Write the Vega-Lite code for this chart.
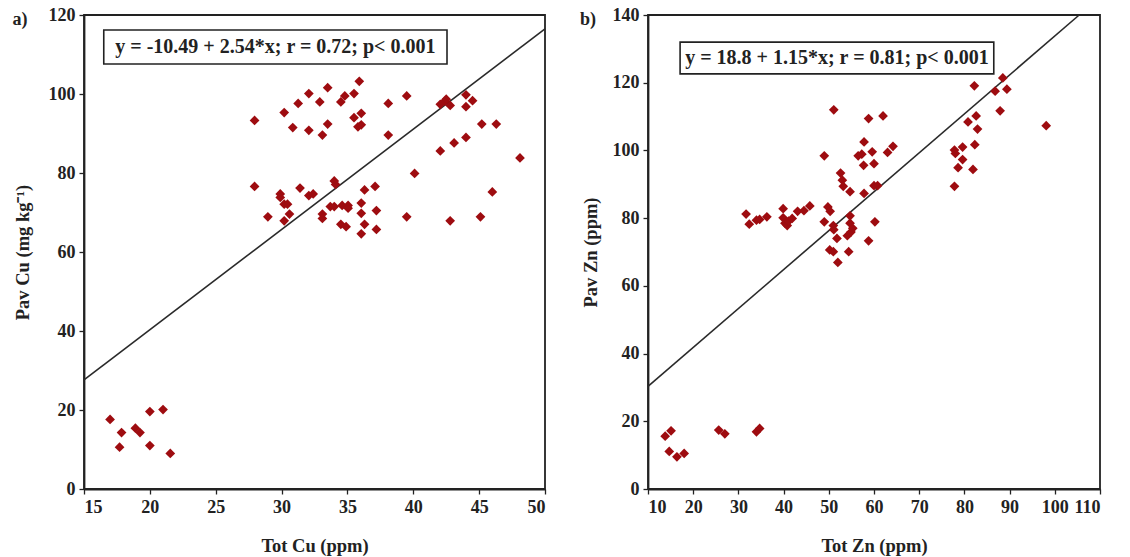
{
  "$schema": "https://vega.github.io/schema/vega-lite/v6.json",
  "padding": {"left": 11, "top": 5, "right": 5, "bottom": 5},
  "background": "white",
  "config": {
    "font": "Liberation Serif",
    "view": {"stroke": "#222", "strokeWidth": 1.8},
    "axis": {
      "grid": false,
      "domainColor": "#222",
      "domainWidth": 1.8,
      "tickColor": "#222",
      "tickSize": 5,
      "tickWidth": 1.3,
      "labelFont": "Liberation Serif",
      "labelFontSize": 18,
      "labelFontWeight": "bold",
      "labelColor": "#222",
      "titleFont": "Liberation Serif",
      "titleFontSize": 18.5,
      "titleFontWeight": "bold",
      "titleColor": "#222",
      "labelPadding": 4
    }
  },
  "datasets": {
    "cu": [
      {"tot": 16.98, "pav": 17.6}, {"tot": 17.85, "pav": 14.3}, {"tot": 17.7, "pav": 10.6},
      {"tot": 18.9, "pav": 15.4}, {"tot": 19.25, "pav": 14.3}, {"tot": 20.0, "pav": 19.6},
      {"tot": 20.0, "pav": 11.0}, {"tot": 21.0, "pav": 20.1}, {"tot": 21.55, "pav": 9.0},
      {"tot": 27.95, "pav": 93.3}, {"tot": 27.95, "pav": 76.6}, {"tot": 28.96, "pav": 68.9},
      {"tot": 29.9, "pav": 74.7}, {"tot": 29.9, "pav": 73.8}, {"tot": 30.2, "pav": 95.3},
      {"tot": 30.2, "pav": 72.1}, {"tot": 30.2, "pav": 67.9}, {"tot": 30.45, "pav": 72.1},
      {"tot": 30.6, "pav": 69.6}, {"tot": 30.85, "pav": 91.5}, {"tot": 31.26, "pav": 97.6},
      {"tot": 31.4, "pav": 76.2}, {"tot": 32.07, "pav": 100.1}, {"tot": 32.07, "pav": 90.8},
      {"tot": 32.07, "pav": 74.3}, {"tot": 32.4, "pav": 74.7}, {"tot": 32.9, "pav": 98.0},
      {"tot": 33.1, "pav": 89.6}, {"tot": 33.1, "pav": 69.6}, {"tot": 33.1, "pav": 68.5},
      {"tot": 33.5, "pav": 92.4}, {"tot": 33.5, "pav": 101.6}, {"tot": 33.7, "pav": 71.5},
      {"tot": 34.0, "pav": 71.5}, {"tot": 34.0, "pav": 78.0}, {"tot": 34.1, "pav": 77.1},
      {"tot": 34.5, "pav": 98.0}, {"tot": 34.6, "pav": 71.8}, {"tot": 34.5, "pav": 67.0},
      {"tot": 34.8, "pav": 99.5}, {"tot": 34.9, "pav": 66.4}, {"tot": 35.05, "pav": 71.8},
      {"tot": 35.05, "pav": 71.1}, {"tot": 35.5, "pav": 100.1}, {"tot": 35.5, "pav": 94.0},
      {"tot": 35.8, "pav": 91.7}, {"tot": 35.9, "pav": 103.2}, {"tot": 36.05, "pav": 95.1},
      {"tot": 36.05, "pav": 92.2}, {"tot": 36.05, "pav": 72.4}, {"tot": 36.05, "pav": 69.8},
      {"tot": 36.05, "pav": 64.6}, {"tot": 36.3, "pav": 75.7}, {"tot": 36.3, "pav": 67.0},
      {"tot": 37.1, "pav": 76.6}, {"tot": 37.2, "pav": 70.5}, {"tot": 37.2, "pav": 65.7},
      {"tot": 38.1, "pav": 97.6}, {"tot": 38.1, "pav": 89.6}, {"tot": 39.5, "pav": 99.5},
      {"tot": 39.5, "pav": 68.9}, {"tot": 40.1, "pav": 79.9}, {"tot": 42.05, "pav": 85.6},
      {"tot": 42.05, "pav": 97.4}, {"tot": 42.4, "pav": 98.2}, {"tot": 42.5, "pav": 98.7},
      {"tot": 42.8, "pav": 97.1}, {"tot": 42.8, "pav": 67.9}, {"tot": 43.1, "pav": 87.6},
      {"tot": 44.0, "pav": 99.8}, {"tot": 44.0, "pav": 96.8}, {"tot": 44.0, "pav": 89.0},
      {"tot": 44.5, "pav": 98.3}, {"tot": 45.2, "pav": 92.4}, {"tot": 45.1, "pav": 68.9},
      {"tot": 46.0, "pav": 75.2}, {"tot": 46.3, "pav": 92.4}, {"tot": 48.1, "pav": 83.8}
    ],
    "zn": [
      {"tot": 13.8, "pav": 15.6}, {"tot": 15.1, "pav": 17.2}, {"tot": 14.7, "pav": 11.1},
      {"tot": 16.4, "pav": 9.5}, {"tot": 18.0, "pav": 10.5}, {"tot": 25.65, "pav": 17.4},
      {"tot": 27.0, "pav": 16.3}, {"tot": 34.0, "pav": 16.9}, {"tot": 34.7, "pav": 17.9},
      {"tot": 31.7, "pav": 81.2}, {"tot": 32.4, "pav": 78.2}, {"tot": 34.0, "pav": 79.4},
      {"tot": 34.7, "pav": 79.6}, {"tot": 36.3, "pav": 80.4}, {"tot": 39.9, "pav": 82.8},
      {"tot": 39.9, "pav": 80.1}, {"tot": 40.3, "pav": 78.5}, {"tot": 40.8, "pav": 77.8},
      {"tot": 41.1, "pav": 79.1}, {"tot": 41.9, "pav": 79.9}, {"tot": 43.1, "pav": 82.0},
      {"tot": 44.5, "pav": 82.2}, {"tot": 45.8, "pav": 83.6}, {"tot": 49.0, "pav": 98.4},
      {"tot": 49.0, "pav": 78.9}, {"tot": 49.8, "pav": 83.3}, {"tot": 50.3, "pav": 82.0},
      {"tot": 50.2, "pav": 70.6}, {"tot": 51.0, "pav": 70.1}, {"tot": 51.1, "pav": 112.0},
      {"tot": 51.0, "pav": 77.8}, {"tot": 51.1, "pav": 76.6}, {"tot": 51.8, "pav": 74.0},
      {"tot": 52.0, "pav": 66.9}, {"tot": 52.6, "pav": 93.3}, {"tot": 53.0, "pav": 91.2},
      {"tot": 53.2, "pav": 89.4}, {"tot": 54.7, "pav": 87.8}, {"tot": 54.4, "pav": 70.1},
      {"tot": 54.7, "pav": 80.7}, {"tot": 54.7, "pav": 78.5}, {"tot": 54.1, "pav": 74.8},
      {"tot": 54.9, "pav": 75.9}, {"tot": 55.3, "pav": 77.0}, {"tot": 56.5, "pav": 98.4},
      {"tot": 57.3, "pav": 98.9}, {"tot": 57.7, "pav": 95.6}, {"tot": 57.8, "pav": 102.5},
      {"tot": 57.8, "pav": 87.3}, {"tot": 58.8, "pav": 109.4}, {"tot": 58.8, "pav": 73.3},
      {"tot": 59.6, "pav": 99.6}, {"tot": 60.0, "pav": 96.1}, {"tot": 60.0, "pav": 89.6},
      {"tot": 60.2, "pav": 78.9}, {"tot": 60.8, "pav": 89.6}, {"tot": 62.0, "pav": 110.2},
      {"tot": 63.0, "pav": 99.4}, {"tot": 64.2, "pav": 101.2},
      {"tot": 77.8, "pav": 89.4}, {"tot": 77.8, "pav": 100.1}, {"tot": 78.0, "pav": 99.1},
      {"tot": 78.6, "pav": 94.9}, {"tot": 79.6, "pav": 101.0}, {"tot": 79.6, "pav": 97.3},
      {"tot": 80.8, "pav": 108.4}, {"tot": 81.9, "pav": 94.4}, {"tot": 82.2, "pav": 119.1},
      {"tot": 82.3, "pav": 101.7}, {"tot": 82.6, "pav": 110.2}, {"tot": 82.9, "pav": 106.3},
      {"tot": 86.8, "pav": 117.5}, {"tot": 87.9, "pav": 111.7}, {"tot": 88.5, "pav": 121.4},
      {"tot": 89.4, "pav": 118.1}, {"tot": 98.1, "pav": 107.3}
    ],
    "cuFit": [{"tot": 15, "pav": 27.61}, {"tot": 50, "pav": 116.51}],
    "znFit": [{"tot": 10, "pav": 30.3}, {"tot": 105.39, "pav": 140}],
    "cuNote": [{"x1": 16.5, "x2": 42.56, "y1": 116.2, "y2": 107.6, "xc": 29.53, "yc": 111.9, "label": "y = -10.49 + 2.54*x; r = 0.72; p< 0.001"}],
    "znNote": [{"x1": 17.1, "x2": 86.5, "y1": 132.0, "y2": 122.6, "xc": 51.8, "yc": 127.3, "label": "y = 18.8 + 1.15*x; r = 0.81; p< 0.001"}],
    "cuTag": [{"x": 10.14, "y": 118.7, "label": "a)"}],
    "znTag": [{"x": -3.27, "y": 138.5, "label": "b)"}]
  },
  "hconcat": [
    {
      "width": 461,
      "height": 474,
      "layer": [
        {
          "data": {"name": "cuFit"},
          "mark": {"type": "line", "color": "#2a2a2a", "strokeWidth": 1.6},
          "encoding": {
            "x": {"field": "tot", "type": "quantitative", "scale": {"domain": [15, 50], "nice": false, "zero": false},
                  "axis": {"values": [15, 20, 25, 30, 35, 40, 45, 50], "title": "Tot Cu (ppm)", "titlePadding": 20}},
            "y": {"field": "pav", "type": "quantitative", "scale": {"domain": [0, 120], "nice": false},
                  "axis": {"values": [0, 20, 40, 60, 80, 100, 120], "title": "Pav Cu (mg kg⁻¹)", "titlePadding": 16}}
          }
        },
        {
          "data": {"name": "cu"},
          "mark": {"type": "point", "shape": "diamond", "filled": true, "color": "#9e0c10", "size": 95, "opacity": 1},
          "encoding": {
            "x": {"field": "tot", "type": "quantitative"},
            "y": {"field": "pav", "type": "quantitative"}
          }
        },
        {
          "data": {"name": "cuNote"},
          "mark": {"type": "rect", "fill": "white", "stroke": "#222", "strokeWidth": 1.6},
          "encoding": {
            "x": {"field": "x1", "type": "quantitative"},
            "x2": {"field": "x2"},
            "y": {"field": "y1", "type": "quantitative"},
            "y2": {"field": "y2"}
          }
        },
        {
          "data": {"name": "cuNote"},
          "mark": {"type": "text", "font": "Liberation Serif", "fontSize": 20, "fontWeight": "bold", "color": "#222", "align": "center", "baseline": "middle"},
          "encoding": {
            "x": {"field": "xc", "type": "quantitative"},
            "y": {"field": "yc", "type": "quantitative"},
            "text": {"field": "label"}
          }
        },
        {
          "data": {"name": "cuTag"},
          "mark": {"type": "text", "font": "Liberation Serif", "fontSize": 18, "fontWeight": "bold", "color": "#222", "align": "center", "baseline": "middle", "clip": false},
          "encoding": {
            "x": {"field": "x", "type": "quantitative"},
            "y": {"field": "y", "type": "quantitative"},
            "text": {"field": "label"}
          }
        }
      ]
    },
    {
      "width": 452,
      "height": 474,
      "layer": [
        {
          "data": {"name": "znFit"},
          "mark": {"type": "line", "color": "#2a2a2a", "strokeWidth": 1.6},
          "encoding": {
            "x": {"field": "tot", "type": "quantitative", "scale": {"domain": [10, 110], "nice": false, "zero": false},
                  "axis": {"values": [10, 20, 30, 40, 50, 60, 70, 80, 90, 100, 110], "title": "Tot Zn (ppm)", "titlePadding": 20}},
            "y": {"field": "pav", "type": "quantitative", "scale": {"domain": [0, 140], "nice": false},
                  "axis": {"values": [0, 20, 40, 60, 80, 100, 120, 140], "title": "Pav Zn (ppm)", "titlePadding": 12}}
          }
        },
        {
          "data": {"name": "zn"},
          "mark": {"type": "point", "shape": "diamond", "filled": true, "color": "#9e0c10", "size": 95, "opacity": 1},
          "encoding": {
            "x": {"field": "tot", "type": "quantitative"},
            "y": {"field": "pav", "type": "quantitative"}
          }
        },
        {
          "data": {"name": "znNote"},
          "mark": {"type": "rect", "fill": "white", "stroke": "#222", "strokeWidth": 1.6},
          "encoding": {
            "x": {"field": "x1", "type": "quantitative"},
            "x2": {"field": "x2"},
            "y": {"field": "y1", "type": "quantitative"},
            "y2": {"field": "y2"}
          }
        },
        {
          "data": {"name": "znNote"},
          "mark": {"type": "text", "font": "Liberation Serif", "fontSize": 20, "fontWeight": "bold", "color": "#222", "align": "center", "baseline": "middle"},
          "encoding": {
            "x": {"field": "xc", "type": "quantitative"},
            "y": {"field": "yc", "type": "quantitative"},
            "text": {"field": "label"}
          }
        },
        {
          "data": {"name": "znTag"},
          "mark": {"type": "text", "font": "Liberation Serif", "fontSize": 18, "fontWeight": "bold", "color": "#222", "align": "center", "baseline": "middle", "clip": false},
          "encoding": {
            "x": {"field": "x", "type": "quantitative"},
            "y": {"field": "y", "type": "quantitative"},
            "text": {"field": "label"}
          }
        }
      ]
    }
  ],
  "spacing": 103,
  "bounds": "flush"
}
